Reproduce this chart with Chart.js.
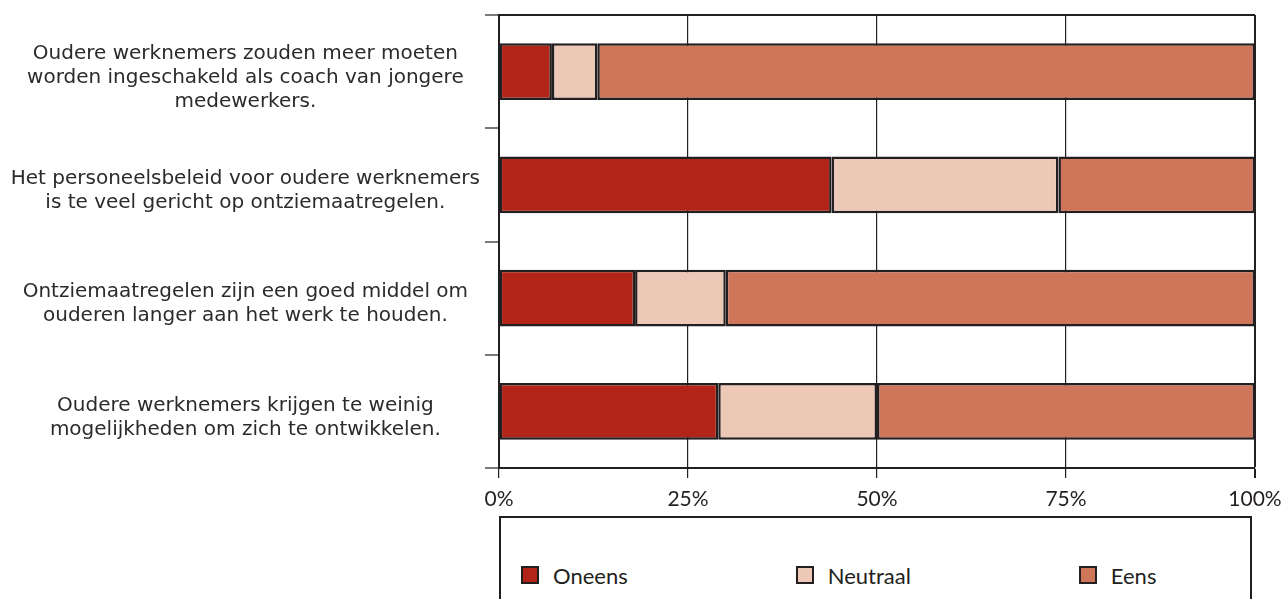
<!DOCTYPE html>
<html lang="nl">
<head>
<meta charset="utf-8">
<title>Stellingen over oudere werknemers</title>
<script src="https://cdn.jsdelivr.net/npm/chart.js@4/dist/chart.umd.min.js"></script>
<style>
  html, body { margin: 0; padding: 0; background: #fff; overflow: hidden; }
  #wrap { position: relative; width: 1284px; height: 599px; }
  #chartBox { position: absolute; left: 0; top: 0; width: 1284px; height: 516px; }
  #legend {
    position: absolute; left: 499px; top: 516px; width: 749px; height: 120px;
    border: 2px solid #231f20; box-sizing: content-box;
  }
  #legend ul { list-style: none; margin: 0; padding: 46px 0 0 20px; display: flex; gap: 168px; }
  #legend li { display: flex; align-items: center; height: 22px; font: 22px Lato, sans-serif; color: #231f20; }
  #legend .swatch { width: 14px; height: 14px; border: 2px solid #231f20; margin-right: 14px; }
</style>
</head>
<body>
<div id="wrap">
  <div id="chartBox"><canvas id="chart"></canvas></div>
  <div id="legend"></div>
</div>
<script>
// Statements, one per bar (lines break as in the printed report)
const statements = [
  ["Oudere werknemers zouden meer moeten", "worden ingeschakeld als coach van jongere", "medewerkers."],
  ["Het personeelsbeleid voor oudere werknemers", "is te veel gericht op ontziemaatregelen."],
  ["Ontziemaatregelen zijn een goed middel om", "ouderen langer aan het werk te houden."],
  ["Oudere werknemers krijgen te weinig", "mogelijkheden om zich te ontwikkelen."]
];

// Answer shares in percent
const oneens = [7, 44, 18, 29];
const neutraal = [6, 30, 12, 21];
const eens = [87, 26, 70, 50];

const percentTicks = [0, 25, 50, 75, 100];

const ink = "#231f20";

function barSet(label, data, color) {
  return {
    label: label,
    data: data,
    backgroundColor: color,
    borderColor: ink,
    borderWidth: 2.5,
    borderSkipped: false,
    barPercentage: 0.5,
    categoryPercentage: 1
  };
}

const chart = new Chart(document.getElementById("chart"), {
  type: "bar",
  data: {
    labels: statements,
    datasets: [
      barSet("Oneens", oneens, "#b22417"),
      barSet("Neutraal", neutraal, "#edc8b6"),
      barSet("Eens", eens, "#cf755a")
    ]
  },
  options: {
    indexAxis: "y",
    responsive: true,
    maintainAspectRatio: false,
    animation: false,
    layout: { padding: { left: 10, right: 29, top: 15, bottom: 0 } },
    plugins: {
      legend: { display: false },
      tooltip: { enabled: false }
    },
    scales: {
      x: {
        stacked: true,
        min: 0,
        max: 100,
        afterBuildTicks: (scale) => {
          scale.ticks = percentTicks.map((v) => ({ value: v }));
        },
        afterFit: (scale) => {
          scale.height = 48;
          scale.paddingLeft = 0;
          scale.paddingRight = 0;
        },
        ticks: {
          color: ink,
          font: { family: "Lato", size: 21 },
          padding: 9,
          callback: (v) => v + "%"
        },
        grid: {
          color: ink,
          lineWidth: (ctx) => (ctx.index === percentTicks.length - 1 ? 2 : 1.2),
          tickLength: 10,
          tickColor: ink
        },
        border: { color: ink, width: 2 }
      },
      y: {
        stacked: true,
        afterFit: (scale) => {
          // keep the plot flush with the top padding despite the tall labels
          scale.width = 489;
          scale.paddingTop = 0;
          scale.paddingBottom = 0;
        },
        ticks: {
          color: "#2b2b2b",
          crossAlign: "center",
          padding: 5,
          labelOffset: 6,
          font: { family: "DejaVu Sans", size: 20, lineHeight: 24 / 20 }
        },
        grid: {
          color: (ctx) => (ctx.index === 0 ? ink : "transparent"),
          lineWidth: 2,
          tickLength: 14,
          tickColor: ink,
          tickWidth: 1.2
        },
        border: { color: ink, width: 2 }
      }
    }
  }
});

// HTML legend built from the chart's datasets
const legendList = document.createElement("ul");
chart.data.datasets.forEach((ds) => {
  const item = document.createElement("li");
  const swatch = document.createElement("span");
  swatch.className = "swatch";
  swatch.style.background = ds.backgroundColor;
  item.appendChild(swatch);
  item.appendChild(document.createTextNode(ds.label));
  legendList.appendChild(item);
});
document.getElementById("legend").appendChild(legendList);
</script>
</body>
</html>
